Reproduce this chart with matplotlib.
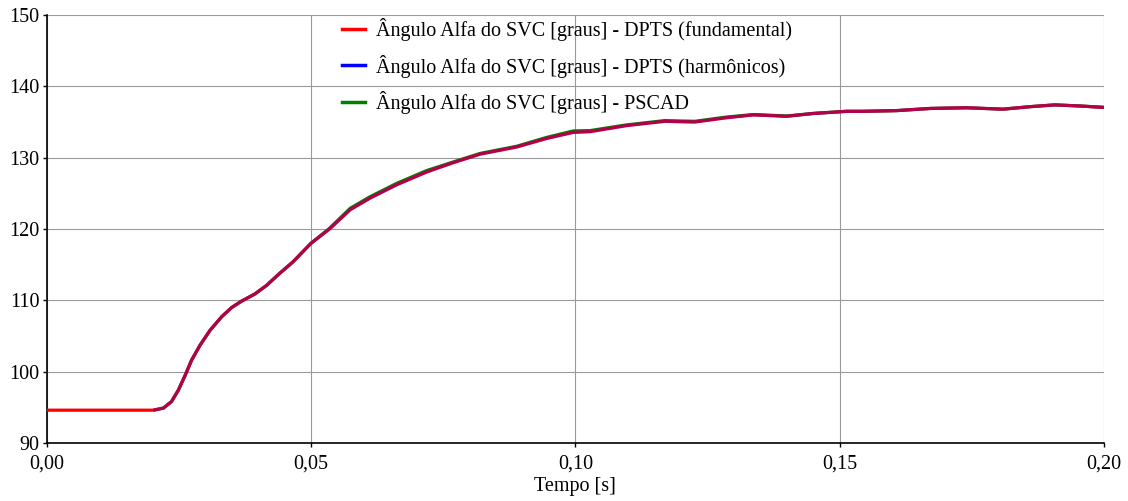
import matplotlib
matplotlib.use("Agg")
import matplotlib.pyplot as plt
from matplotlib.ticker import FuncFormatter, MultipleLocator
from matplotlib.lines import Line2D

plt.rcParams['font.family'] = ['Liberation Serif', 'DejaVu Serif']

# Data (time in s, angle in degrees)
t_fund = [0.0000, 0.0202, 0.0221, 0.0236, 0.0249, 0.0262, 0.0274, 0.0290, 0.0309,
          0.0331, 0.0350, 0.0369, 0.0394, 0.0416, 0.0441, 0.0466, 0.0500, 0.0535,
          0.0574, 0.0611, 0.0662, 0.0719, 0.0769, 0.0820, 0.0889, 0.0946, 0.0996,
          0.1028, 0.1097, 0.1169, 0.1226, 0.1286, 0.1337, 0.1400, 0.1450, 0.1513,
          0.1545, 0.1608, 0.1671, 0.1740, 0.1809, 0.1860, 0.1907, 0.1954, 0.2000]
v_fund = [94.6, 94.6, 94.9, 95.8, 97.4, 99.5, 101.6, 103.7, 105.8,
          107.7, 109.0, 109.9, 110.9, 112.1, 113.8, 115.4, 118.0, 120.0,
          122.7, 124.3, 126.2, 128.0, 129.3, 130.5, 131.5, 132.7, 133.55,
          133.65, 134.5, 135.1, 135.0, 135.6, 136.0, 135.8, 136.2, 136.5,
          136.5, 136.6, 136.9, 137.0, 136.8, 137.15, 137.4, 137.25, 137.05]

t_harm = t_fund[1:]
v_harm = v_fund[1:]

t_pscad = t_fund[1:]
v_pscad = [94.6, 94.9, 95.8, 97.4, 99.5, 101.6, 103.7, 105.8,
           107.7, 109.0, 109.9, 110.9, 112.1, 113.8, 115.4, 118.0, 120.1,
           122.9, 124.5, 126.4, 128.2, 129.4, 130.6, 131.6, 132.85, 133.75,
           133.8, 134.6, 135.2, 135.1, 135.7, 136.05, 135.85, 136.2, 136.5,
           136.5, 136.6, 136.9, 137.0, 136.8, 137.15, 137.4, 137.25, 137.05]

labels = ["Ângulo Alfa do SVC [graus] - DPTS (fundamental)",
          "Ângulo Alfa do SVC [graus] - DPTS (harmônicos)",
          "Ângulo Alfa do SVC [graus] - PSCAD"]

x_ticks = [0.00, 0.05, 0.10, 0.15, 0.20]

FS = 14.5

fig = plt.figure(figsize=(11.28, 5.01), dpi=100)
ax = fig.add_axes([0.0414, 0.1158, 0.9373, 0.8542])

lw = 2.3
ax.plot(t_pscad, v_pscad, color='#008000', lw=lw, zorder=3, solid_capstyle='butt')
ax.plot(t_fund, v_fund, color='#ff0000', lw=lw, zorder=4, solid_capstyle='butt')
ax.plot(t_harm, v_harm, color='#0000ff', lw=lw, alpha=0.3, zorder=5, solid_capstyle='butt')

ax.set_xlim(0, 0.20)
ax.set_ylim(90, 150)
ax.set_xticks(x_ticks)
ax.yaxis.set_major_locator(MultipleLocator(10))
ax.xaxis.set_major_formatter(FuncFormatter(lambda v, p: f"{v:.2f}".replace('.', ',')))
ax.tick_params(axis='both', labelsize=FS, direction='out', length=3, width=1,
               color='black')
ax.tick_params(axis='x', pad=5)
ax.tick_params(axis='y', pad=2)
ax.grid(True, color='#9a9a9a', lw=0.8)
ax.set_axisbelow(True)
for s in ['top', 'right']:
    ax.spines[s].set_visible(False)
for s in ['left', 'bottom']:
    ax.spines[s].set_linewidth(1.2)
ax.set_xlabel("Tempo [s]", fontsize=FS, labelpad=3)

handles = [Line2D([], [], color='#ff0000', lw=2.5),
           Line2D([], [], color='#0000ff', lw=2.5),
           Line2D([], [], color='#008000', lw=2.5)]
ax.legend(handles, labels, loc='upper left', bbox_to_anchor=(0.2655, 1.025),
          frameon=False, fontsize=FS, handlelength=1.15, handletextpad=0.55,
          labelspacing=0.65, borderaxespad=0.3)

fig.savefig("out.png", dpi=100)
